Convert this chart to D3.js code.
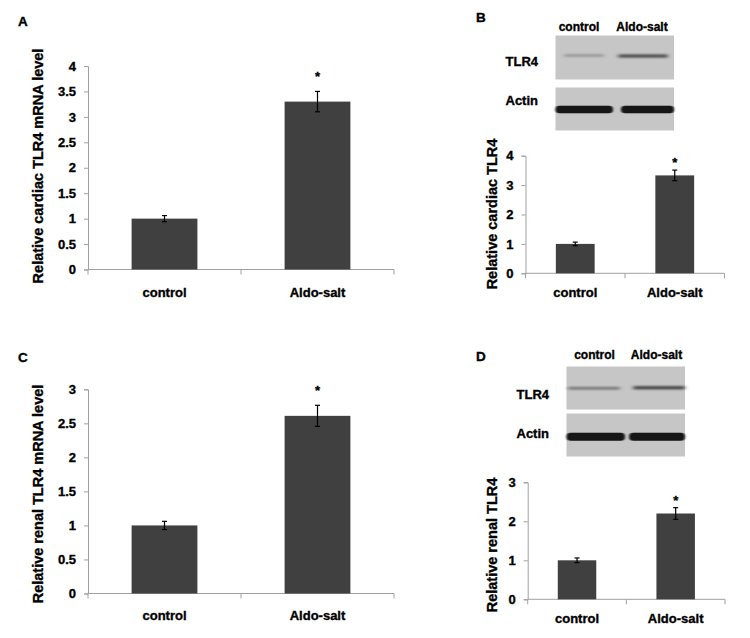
<!DOCTYPE html>
<html>
<head>
<meta charset="utf-8">
<script src="https://cdnjs.cloudflare.com/ajax/libs/d3/7.8.5/d3.min.js"></script>
<style>
  html, body { margin: 0; padding: 0; background: #fff; }
  svg { display: block; font-family: "Liberation Sans", Arial, sans-serif; font-weight: bold; }
  svg text { stroke: #000; stroke-width: 0.35px; }
</style>
</head>
<body>
<svg id="chart" width="750" height="638"></svg>
<script>
// ---------------- data ----------------
const categories = ["control", "Aldo-salt"];

const panelAValues = [1.0, 3.3];
const panelAErrors = [0.06, 0.2];
const panelATicks = [0, 0.5, 1, 1.5, 2, 2.5, 3, 3.5, 4];
const panelATickLabels = ["0", "0.5", "1", "1.5", "2", "2.5", "3", "3.5", "4"];

const panelBValues = [1.0, 3.33];
const panelBErrors = [0.06, 0.18];
const panelBTicks = [0, 1, 2, 3, 4];
const panelBTickLabels = ["0", "1", "2", "3", "4"];

const panelCValues = [1.0, 2.61];
const panelCErrors = [0.06, 0.155];
const panelCTicks = [0, 0.5, 1, 1.5, 2, 2.5, 3];
const panelCTickLabels = ["0", "0.5", "1", "1.5", "2", "2.5", "3"];

const panelDValues = [1.0, 2.2];
const panelDErrors = [0.06, 0.15];
const panelDTicks = [0, 1, 2, 3];
const panelDTickLabels = ["0", "1", "2", "3"];

const blotRows = ["TLR4", "Actin"];
// band darkness (0..1) per lane for each blot row
const blotBTLR4 = [0.35, 0.75];
const blotBActin = [1.0, 1.0];
const blotDTLR4 = [0.5, 0.8];
const blotDActin = [1.0, 1.0];

const yLabels = {
  A: "Relative cardiac TLR4 mRNA level",
  B: "Relative cardiac TLR4",
  C: "Relative renal TLR4 mRNA level",
  D: "Relative renal TLR4"
};

// ---------------- drawing ----------------
const svg = d3.select("#chart");
const defs = svg.append("defs");
defs.append("filter").attr("id", "blurBand").attr("x", "-10%").attr("y", "-100%").attr("width", "120%").attr("height", "300%")
  .append("feGaussianBlur").attr("stdDeviation", "0.8 0.7");
defs.append("filter").attr("id", "blurFaint").attr("x", "-10%").attr("y", "-200%").attr("width", "120%").attr("height", "500%")
  .append("feGaussianBlur").attr("stdDeviation", "2 0.9");

const BAR = "#404040";
const AXIS = "#a0a0a0";

function drawPanel(cfg) {
  const g = svg.append("g");
  const y = d3.scaleLinear().domain(cfg.domain).range([cfg.y0, cfg.y1]);
  const x = d3.scaleBand().domain(categories).range([cfg.x0, cfg.x1]).padding(0);
  const bw = x.bandwidth() * cfg.barFrac;

  // y axis
  const yAxis = d3.axisLeft(y).tickValues(cfg.ticks)
    .tickFormat((d, i) => cfg.tickLabels[i]).tickSize(4).tickPadding(8);
  const ya = g.append("g").attr("transform", `translate(${cfg.x0},0)`).call(yAxis);
  ya.select(".domain").attr("stroke", AXIS);
  ya.selectAll(".tick line").attr("stroke", AXIS);
  ya.selectAll(".tick text").attr("fill", "#000").style("font-size", cfg.tickFont + "px")
    .style("font-weight", "bold").style("font-family", "Liberation Sans, Arial, sans-serif");

  // x axis line with ticks at band edges
  g.append("line").attr("x1", cfg.x0).attr("x2", cfg.x1).attr("y1", y(0)).attr("y2", y(0)).attr("stroke", AXIS);
  const edges = [cfg.x0].concat(categories.map(c => x(c) + x.bandwidth()));
  g.selectAll(".xt").data(edges).enter().append("line")
    .attr("x1", d => d).attr("x2", d => d).attr("y1", y(0)).attr("y2", y(0) + 5).attr("stroke", AXIS);

  // bars
  g.selectAll(".bar").data(cfg.values).enter().append("rect")
    .attr("x", (d, i) => x(categories[i]) + (x.bandwidth() - bw) / 2)
    .attr("y", d => y(d)).attr("width", bw).attr("height", d => y(0) - y(d))
    .attr("fill", BAR);

  // error bars
  const cx = i => x(categories[i]) + x.bandwidth() / 2;
  cfg.values.forEach((v, i) => {
    const e = cfg.errors[i];
    g.append("line").attr("x1", cx(i)).attr("x2", cx(i)).attr("y1", y(v + e)).attr("y2", y(v - e)).attr("stroke", "#000").attr("stroke-width", 1.2);
    [v + e, v - e].forEach(t => g.append("line").attr("x1", cx(i) - 2.5).attr("x2", cx(i) + 2.5)
      .attr("y1", y(t)).attr("y2", y(t)).attr("stroke", "#000").attr("stroke-width", 1.2));
  });
  // asterisk
  g.append("text").attr("x", cx(1)).attr("y", y(cfg.values[1] + cfg.errors[1]) - cfg.starGap)
    .attr("text-anchor", "middle").style("font-size", "13px").text("*");

  // category labels
  g.selectAll(".cl").data(categories).enter().append("text")
    .attr("x", d => x(d) + x.bandwidth() / 2).attr("y", cfg.catY)
    .attr("text-anchor", "middle").attr("dominant-baseline", "central")
    .style("font-size", "13px").text(d => d);

  // y label
  g.append("text").attr("transform", `translate(${cfg.ylx},${cfg.yly}) rotate(-90)`)
    .attr("text-anchor", "middle").attr("dominant-baseline", "central")
    .style("font-size", "14.5px").text(cfg.ylabel);

  // panel letter
  g.append("text").attr("x", cfg.letterX).attr("y", cfg.letterY).attr("dominant-baseline", "central")
    .style("font-size", "13.5px").text(cfg.letter);
}

function drawBlot(cfg) {
  const g = svg.append("g");
  // header labels
  g.selectAll(".hd").data(categories).enter().append("text")
    .attr("x", (d, i) => cfg.headerX[i]).attr("y", cfg.headerY)
    .attr("text-anchor", "middle").attr("dominant-baseline", "central")
    .style("font-size", "12px").text(d => d);
  cfg.rows.forEach((row, r) => {
    const box = cfg.boxes[r];
    g.append("rect").attr("x", cfg.x0).attr("y", box[0]).attr("width", cfg.x1 - cfg.x0).attr("height", box[1] - box[0])
      .attr("fill", "#c6c6c6");
    g.append("text").attr("x", cfg.labelX).attr("y", cfg.labelY[r]).attr("dominant-baseline", "central")
      .style("font-size", "13px").text(row);
    const intens = cfg.intensities[r];
    const bands = cfg.bands[r];
    intens.forEach((v, i) => {
      const b = bands[i];
      const col = d3.interpolateRgb("#c6c6c6", "#161616")(v);
      g.append("rect").attr("x", b[0]).attr("y", b[2] - b[3] / 2).attr("width", b[1] - b[0]).attr("height", b[3])
        .attr("rx", b[3] / 2).attr("fill", col)
        .attr("filter", r === 0 ? "url(#blurFaint)" : "url(#blurBand)");
    });
  });
}

// Panel A
drawPanel({ letter: "A", letterX: 18, letterY: 21, domain: [0, 4], y0: 269.5, y1: 66,
  x0: 88, x1: 394, barFrac: 0.43, values: panelAValues, errors: panelAErrors,
  ticks: panelATicks, tickLabels: panelATickLabels, tickFont: 13, catY: 292,
  ylabel: yLabels.A, ylx: 38, yly: 166, starGap: 10 });

// Panel B
drawPanel({ letter: "B", letterX: 476, letterY: 17, domain: [0, 4], y0: 273.3, y1: 155.7,
  x0: 525.5, x1: 724.5, barFrac: 0.39, values: panelBValues, errors: panelBErrors,
  ticks: panelBTicks, tickLabels: panelBTickLabels, tickFont: 13, catY: 292.5,
  ylabel: yLabels.B, ylx: 492, yly: 214, starGap: 3 });
drawBlot({ x0: 555.5, x1: 674, headerX: [579, 642], headerY: 27, labelX: 505.5, labelY: [61.5, 100],
  rows: blotRows, boxes: [[35.5, 79.5], [87.5, 130.5]], intensities: [blotBTLR4, blotBActin],
  bands: [[[564, 604, 55.5, 2], [618, 668, 56, 3]], [[555.5, 613, 109.5, 7.5], [621, 674, 109.5, 7.5]]] });

// Panel C
drawPanel({ letter: "C", letterX: 18, letterY: 357, domain: [0, 3], y0: 593.5, y1: 389.3,
  x0: 88, x1: 394, barFrac: 0.43, values: panelCValues, errors: panelCErrors,
  ticks: panelCTicks, tickLabels: panelCTickLabels, tickFont: 13, catY: 615,
  ylabel: yLabels.C, ylx: 38, yly: 494, starGap: 10 });

// Panel D
drawPanel({ letter: "D", letterX: 476, letterY: 356.5, domain: [0, 3], y0: 599.3, y1: 482.3,
  x0: 527.7, x1: 725, barFrac: 0.39, values: panelDValues, errors: panelDErrors,
  ticks: panelDTicks, tickLabels: panelDTickLabels, tickFont: 13, catY: 618,
  ylabel: yLabels.D, ylx: 492, yly: 545, starGap: 3 });
drawBlot({ x0: 566.5, x1: 685, headerX: [594.5, 656.5], headerY: 355, labelX: 516.5, labelY: [394, 433.5],
  rows: blotRows, boxes: [[366.5, 409.5], [413.5, 456.5]], intensities: [blotDTLR4, blotDActin],
  bands: [[[568, 620, 388.3, 2.5], [633, 685, 387.8, 3]], [[566.5, 625, 436.7, 8], [629, 685, 436.7, 8]]] });
</script>
</body>
</html>
